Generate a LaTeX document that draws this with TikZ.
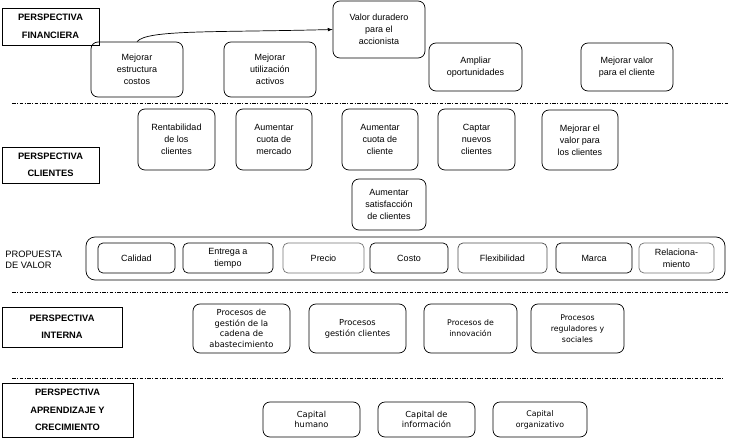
\documentclass[tikz,border=0pt]{standalone}
\usepackage{fontspec}
\setmainfont{Liberation Sans}
\newfontfamily\verdana{DejaVu Sans}
\begin{document}
\begin{tikzpicture}[x=1pt, y=-1pt, >=latex, line width=0.7pt,
	caja/.style={draw, rounded corners=7pt, align=center, inner sep=1pt, font=\fontsize{9}{12}\selectfont},
	cajav/.style={caja, font=\verdana\fontsize{8.3}{10.7}\selectfont},
	etiqueta/.style={draw, align=center, inner sep=1pt, font=\bfseries\fontsize{9.3}{17.5}\selectfont},
	separador/.style={line width=0.6pt, dash pattern=on 3.5pt off 1.5pt on 1pt off 1.5pt}]
	\useasboundingbox (0,0) rectangle (729,439);
	
	% 1. Perspectiva financiera
	\node[etiqueta, minimum width=97, minimum height=37] (fin) at (50.5,26.5) {PERSPECTIVA\\FINANCIERA};
	\node[caja, minimum width=92, minimum height=55] (mejcost) at (137,69.5) {Mejorar\\estructura\\costos};
	\node[caja, minimum width=92, minimum height=55] (mejact) at (270,69.5) {Mejorar\\utilización\\activos};
	\node[caja, minimum width=92, minimum height=57] (valor) at (379,29.5) {Valor duradero\\para el\\accionista};
	\node[caja, minimum width=93, minimum height=48] (ampliar) at (475.5,67) {Ampliar\\oportunidades};
	\node[caja, minimum width=92, minimum height=48] (mejval) at (627,67) {Mejorar valor\\para el cliente};
	\draw[->] (mejcost.north) .. controls +(10,-12) and +(-120,3) .. (valor.west);
	
	\draw[separador] (12,103) -- (729,103);
	
	% 2. Perspectiva clientes
	\node[etiqueta, minimum width=97, minimum height=36] (cli) at (50.5,165) {PERSPECTIVA\\CLIENTES};
	\node[caja, minimum width=77, minimum height=61] (rent) at (176.5,139.5) {Rentabilidad\\de los\\clientes};
	\node[caja, minimum width=76, minimum height=61] (cuomer) at (274,139.5) {Aumentar\\cuota de\\mercado};
	\node[caja, minimum width=76, minimum height=61] (cuocli) at (380,139.5) {Aumentar\\cuota de\\cliente};
	\node[caja, minimum width=77, minimum height=61] (captar) at (476.5,139.5) {Captar\\nuevos\\clientes};
	\node[caja, minimum width=76, minimum height=60] (mejcli) at (580,140) {Mejorar el\\valor para\\los clientes};
	\node[caja, minimum width=74, minimum height=51] (satis) at (389,204.5) {Aumentar\\satisfacción\\de clientes};
	
	% 3. Propuesta de valor
	\node[anchor=west, align=left, inner sep=0pt, font=\fontsize{9.3}{11}\selectfont] (prop) at (5,260) {PROPUESTA\\DE VALOR};
	\node[caja, rounded corners=9pt, minimum width=639, minimum height=43] (valorbox) at (405.5,258.5) {};
	\node[caja, rounded corners=5pt, minimum width=77, minimum height=30] (calidad) at (136.5,258) {Calidad};
	\node[caja, rounded corners=5pt, minimum width=90, minimum height=30] (entrega) at (228,258) {Entrega a\\tiempo};
	\node[caja, rounded corners=5pt, draw=black!55, minimum width=81, minimum height=30] (precio) at (323.5,258) {Precio};
	\node[caja, rounded corners=5pt, minimum width=78, minimum height=30] (costo) at (409,258) {Costo};
	\node[caja, rounded corners=5pt, draw=black!70, minimum width=89, minimum height=30] (flex) at (502.5,258) {Flexibilidad};
	\node[caja, rounded corners=5pt, minimum width=76, minimum height=30] (marca) at (594,258) {Marca};
	\node[caja, rounded corners=5pt, draw=black!55, minimum width=75, minimum height=30] (relac) at (676.5,258) {Relaciona-\\miento};
	
	\draw[separador] (12,292) -- (729,292);
	
	% 4. Perspectiva interna
	\node[etiqueta, minimum width=120, minimum height=40] (int) at (62,327) {PERSPECTIVA\\INTERNA};
	\node[cajav, minimum width=97, minimum height=49] (cadena) at (241.5,328.5) {Procesos de\\gestión de la\\cadena de\\abastecimiento};
	\node[cajav, minimum width=97, minimum height=49] (gescli) at (357.5,328.5) {Procesos\\gestión clientes};
	\node[cajav, minimum width=93, minimum height=49, font=\verdana\fontsize{7.8}{11}\selectfont] (innov) at (470.5,328.5) {Procesos de\\innovación};
	\node[cajav, minimum width=93, minimum height=49, font=\verdana\fontsize{7.8}{11}\selectfont] (regul) at (577.5,328.5) {Procesos\\reguladores y\\sociales};
	
	\draw[separador] (12,378) -- (723,378);
	
	% 5. Perspectiva aprendizaje y crecimiento
	\node[etiqueta, minimum width=131, minimum height=54] (apr) at (67.5,410) {PERSPECTIVA\\APRENDIZAJE Y\\CRECIMIENTO};
	\node[cajav, minimum width=97, minimum height=35] (humano) at (311.5,419.5) {Capital\\humano};
	\node[cajav, minimum width=97, minimum height=35] (info) at (426.5,419.5) {Capital de\\información};
	\node[cajav, minimum width=94, minimum height=35, font=\verdana\fontsize{7.8}{11}\selectfont] (organ) at (540,419.5) {Capital\\organizativo};
	
\end{tikzpicture}
\end{document}
